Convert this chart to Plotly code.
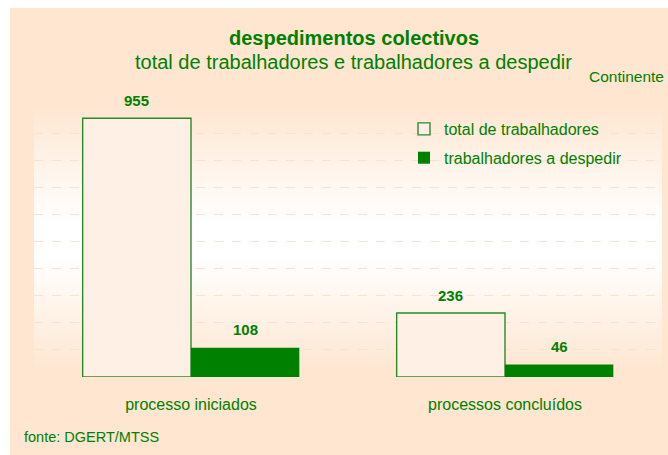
import plotly.graph_objects as go

categories = ["processo iniciados", "processos concluídos"]
total_trab = [955, 236]
trab_despedir = [108, 46]
series_names = ["total de trabalhadores", "trabalhadores a despedir"]

W, H = 668, 455
# plot area in page pixels: x 34..662, y 106..377
L, R, T, B = 34, 668 - 662, 106, 455 - 377
PW, PH = W - L - R, H - T - B
GREEN = "#008000"
PEACH = (254, 230, 208)
FONT = "Liberation Sans"
BARGAP = 0.31

def px_x(x):  # page pixel -> paper
    return (x - L) / PW

def px_y(y):
    return (H - B - y) / PH

fig = go.Figure()
fig.add_trace(go.Bar(
    x=categories, y=total_trab, name=series_names[0],
    marker=dict(color="#FEF0E4", line=dict(color="#2A8A2A", width=1.4)),
    legendgroup="a",
))
fig.add_trace(go.Bar(
    x=categories, y=trab_despedir, name=series_names[1],
    marker=dict(color=GREEN, line=dict(width=0)),
    legendgroup="b",
))

shapes = []
shapes.append(dict(type="rect", xref="paper", yref="paper", layer="below",
                   x0=px_x(10), x1=px_x(W + 5), y0=px_y(H + 5), y1=px_y(8),
                   fillcolor="rgb(%d,%d,%d)" % PEACH, line=dict(width=0)))
top, mid1, mid2, bot = 103, 222, 258, 372
y = top
step = 3
while y < bot:
    yc = y + step / 2
    if yc < mid1:
        f = (mid1 - yc) / (mid1 - top)
    elif yc > mid2:
        f = (yc - mid2) / (bot - mid2)
    else:
        f = 0
    f = max(0, min(1, f))
    c = tuple(int(round(255 + (p - 255) * f)) for p in PEACH)
    shapes.append(dict(type="rect", xref="paper", yref="paper", layer="below",
                       x0=px_x(34), x1=px_x(662), y0=px_y(min(y + step, bot)), y1=px_y(y),
                       fillcolor="rgb(%d,%d,%d)" % c, line=dict(width=0)))
    y += step

def note(text, x, y, size, xanchor="center"):
    return dict(text=text, x=px_x(x), y=px_y(y), xref="paper", yref="paper",
                xanchor=xanchor, yanchor="middle", showarrow=False,
                font=dict(family=FONT, size=size, color=GREEN))

annotations = [
    note("<b>despedimentos colectivos</b>", 354, 38, 20),
    note("total de trabalhadores e trabalhadores a despedir", 353, 62, 20),
    note("Continente", 666, 77, 15.5, "right"),
    note("fonte: DGERT/MTSS", 22, 437, 14.5, "left"),
]
off = (1 - BARGAP) / 4
for i, v in enumerate(total_trab):
    annotations.append(dict(text="<b>%d</b>" % v, x=i - off, y=v, xref="x", yref="y", yshift=18,
                            yanchor="middle", showarrow=False, font=dict(family=FONT, size=15, color=GREEN)))
for i, v in enumerate(trab_despedir):
    annotations.append(dict(text="<b>%d</b>" % v, x=i + off, y=v, xref="x", yref="y", yshift=18,
                            yanchor="middle", showarrow=False, font=dict(family=FONT, size=15, color=GREEN)))

fig.update_layout(
    width=W, height=H, margin=dict(l=L, r=R, t=T, b=B, autoexpand=False),
    paper_bgcolor="white", plot_bgcolor="rgba(0,0,0,0)",
    barmode="group", bargap=BARGAP, bargroupgap=0,
    shapes=shapes, annotations=annotations,
    font=dict(family=FONT, color=GREEN),
    legend=dict(x=px_x(404), y=px_y(112), xanchor="left", yanchor="top",
                bgcolor="rgba(0,0,0,0)", font=dict(family=FONT, size=16, color=GREEN),
                itemwidth=30, tracegroupgap=5),
    showlegend=True,
)
fig.update_xaxes(type="category", showline=False, showgrid=False, zeroline=False,
                 ticks="", ticklabelstandoff=16, tickfont=dict(family=FONT, size=16, color=GREEN))
fig.update_yaxes(range=[0, 1000], dtick=100, showticklabels=False, showline=False, zeroline=False,
                 showgrid=True, gridcolor="#FBE2CD", griddash="dash", gridwidth=1)

fig.write_html("out.html", config={"displayModeBar": False},
               post_script="document.body.style.margin='0';document.body.style.overflow='hidden';")
